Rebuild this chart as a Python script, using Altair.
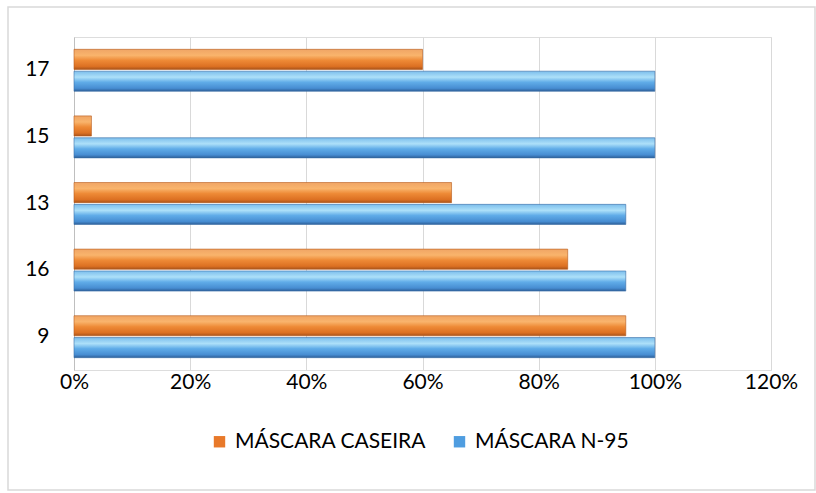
import altair as alt
import pandas as pd

categories = ["17", "15", "13", "16", "9"]
series = ["MÁSCARA CASEIRA", "MÁSCARA N-95"]
caseira = [0.60, 0.03, 0.65, 0.85, 0.95]
n95 = [1.00, 1.00, 0.95, 0.95, 1.00]
x_ticks = [0, 0.2, 0.4, 0.6, 0.8, 1.0, 1.2]

rows = []
for c, a, b in zip(categories, caseira, n95):
    rows.append({"cat": c, "serie": series[0], "valor": a})
    rows.append({"cat": c, "serie": series[1], "valor": b})
df = pd.DataFrame(rows)

FONT = "Lato"

orange_grad = alt.Gradient(
    gradient="linear", x1=0, y1=0, x2=0, y2=1,
    stops=[
        alt.GradientStop(offset=0, color="#f0a565"),
        alt.GradientStop(offset=0.3, color="#f9b46c"),
        alt.GradientStop(offset=0.55, color="#ee8a36"),
        alt.GradientStop(offset=0.85, color="#dc7022"),
        alt.GradientStop(offset=1, color="#a9531a"),
    ],
)
blue_grad = alt.Gradient(
    gradient="linear", x1=0, y1=0, x2=0, y2=1,
    stops=[
        alt.GradientStop(offset=0, color="#7cbeec"),
        alt.GradientStop(offset=0.3, color="#ade0f9"),
        alt.GradientStop(offset=0.55, color="#60ace8"),
        alt.GradientStop(offset=0.85, color="#478dd2"),
        alt.GradientStop(offset=1, color="#2d5f98"),
    ],
)

y_enc = alt.Y(
    "cat:N",
    sort=categories,
    scale=alt.Scale(domain=categories, paddingInner=0.37, paddingOuter=0.185),
    axis=alt.Axis(
        title=None, ticks=False, domain=True, domainColor="#bfbfbf",
        domainWidth=1, labelFontSize=21, labelFont=FONT, labelColor="#000000",
        labelPadding=25,
    ),
)
x_enc = alt.X(
    "valor:Q",
    scale=alt.Scale(domain=[0, 1.2], nice=False),
    axis=alt.Axis(
        title=None, format=".0%", values=x_ticks, ticks=False, domain=False,
        grid=True, gridColor="#d9d9d9", gridWidth=1, labelFlush=False,
        labelFontSize=21, labelFont=FONT, labelColor="#000000", labelPadding=1,
    ),
)
yoff = alt.YOffset(
    "serie:N", sort=series,
    scale=alt.Scale(domain=series, paddingInner=0.08),
)

base = alt.Chart(df)

shadow = base.mark_bar(
    fill="#000000", opacity=0.08, yOffset=4
).encode(x=x_enc, y=y_enc, yOffset=yoff)

bars_o = base.transform_filter(alt.datum.serie == series[0]).mark_bar(
    fill=orange_grad, stroke="#b85d1c", strokeWidth=0.6
).encode(x=x_enc, y=y_enc, yOffset=yoff)

bars_b = base.transform_filter(alt.datum.serie == series[1]).mark_bar(
    fill=blue_grad, stroke="#3a6fa8", strokeWidth=0.6
).encode(x=x_enc, y=y_enc, yOffset=yoff)

legend_layer = base.mark_square(opacity=0, size=1).encode(
    x=alt.X("valor:Q"),
    y=alt.Y("cat:N", sort=categories),
    color=alt.Color(
        "serie:N",
        scale=alt.Scale(domain=series, range=["#e8792a", "#4f9de0"]),
        legend=alt.Legend(
            title=None, orient="none", legendX=135, legendY=394,
            direction="horizontal", symbolType="square", symbolSize=130,
            symbolOpacity=1, symbolStrokeWidth=0.8, labelLimit=0,
            labelFontSize=21, labelFont=FONT, labelColor="#000000",
            columnPadding=22, labelOffset=5,
        ),
    ),
)

border = alt.Chart(pd.DataFrame({"a": [0]})).mark_rect(
    fill=None, stroke="#d9d9d9", strokeWidth=1.5
).encode(
    x=alt.value(-66), x2=alt.value(741),
    y=alt.value(-30), y2=alt.value(453),
)

chart = alt.layer(border, shadow, bars_o, bars_b, legend_layer).properties(
    width=697, height=333,
    autosize=alt.AutoSizeParams(type="none"),
    padding={"left": 74, "top": 37, "right": 45, "bottom": 123},
).configure_view(stroke=None).configure(background="#ffffff")

chart.save("out.html", embed_options={"renderer": "svg", "actions": False})
